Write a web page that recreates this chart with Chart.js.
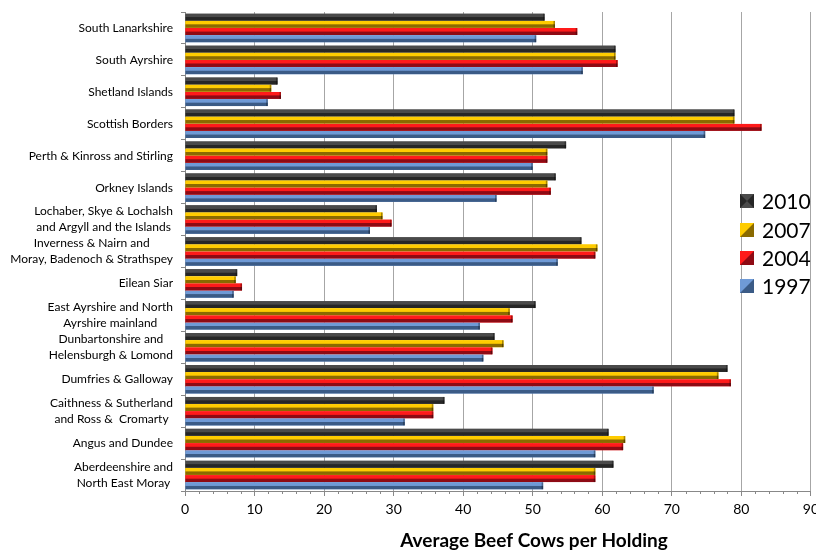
<!DOCTYPE html>
<html>
<head>
<meta charset="utf-8">
<script src="https://cdn.jsdelivr.net/npm/chart.js@4.4.1/dist/chart.umd.min.js"></script>
<style>
  body { margin: 0; background: #fff; }
  #frame { width: 816px; height: 551px; overflow: hidden; }
  #wrap { width: 824px; height: 551px; position: relative; }
</style>
</head>
<body>
<div id="frame"><div id="wrap"><canvas id="beefChart"></canvas></div></div>
<script>
const regions = [
    ['South Lanarkshire'],
    ['South Ayrshire'],
    ['Shetland Islands'],
    ['Scottish Borders'],
    ['Perth & Kinross and Stirling'],
    ['Orkney Islands'],
    ['Lochaber, Skye & Lochalsh', 'and Argyll and the Islands'],
    ['Inverness & Nairn and', 'Moray, Badenoch & Strathspey'],
    ['Eilean Siar'],
    ['East Ayrshire and North', 'Ayrshire mainland'],
    ['Dunbartonshire and', 'Helensburgh & Lomond'],
    ['Dumfries & Galloway'],
    ['Caithness & Sutherland', 'and Ross &  Cromarty'],
    ['Angus and Dundee'],
    ['Aberdeenshire and', 'North East Moray']
];

const years = ['2010', '2007', '2004', '1997'];

const cows2010 = [51.7, 61.9, 13.3, 79.0, 54.8, 53.3, 27.6, 57.0, 7.5, 50.4, 44.5, 78.0, 37.3, 60.9, 61.6];
const cows2007 = [53.2, 61.9, 12.4, 79.0, 52.1, 52.1, 28.4, 59.3, 7.3, 46.7, 45.8, 76.7, 35.7, 63.3, 59.0];
const cows2004 = [56.4, 62.2, 13.8, 82.9, 52.1, 52.6, 29.7, 59.0, 8.2, 47.1, 44.2, 78.5, 35.7, 63.0, 59.0];
const cows1997 = [50.5, 57.2, 11.9, 74.8, 50.0, 44.8, 26.6, 53.6, 7.0, 42.4, 42.9, 67.4, 31.6, 59.0, 51.5];

const xTicks = [0, 10, 20, 30, 40, 50, 60, 70, 80, 90];
const axisTitle = 'Average Beef Cows per Holding';

// light / dark shade per series, for the bevelled bar look
const shades = [
    ['#4a4a4a', '#262626'],
    ['#ffcc00', '#8a6a00'],
    ['#ff1a1a', '#8e0a14'],
    ['#6f9ad6', '#3b5b86']
];

const FONT = 'Lato, "Noto Sans", sans-serif';

// redraw each bar with a top-light / bottom-dark gradient
const bevelBars = {
    id: 'bevelBars',
    afterDatasetsDraw(chart) {
        const ctx = chart.ctx;
        ctx.save();
        chart.data.datasets.forEach((ds, di) => {
            const meta = chart.getDatasetMeta(di);
            meta.data.forEach(bar => {
                const p = bar.getProps(['x', 'y', 'base', 'height'], true);
                const top = p.y - p.height / 2;
                const g = ctx.createLinearGradient(0, top, 0, top + p.height);
                g.addColorStop(0, shades[di][0]);
                g.addColorStop(0.45, shades[di][0]);
                g.addColorStop(0.55, shades[di][1]);
                g.addColorStop(1, shades[di][1]);
                ctx.fillStyle = g;
                ctx.fillRect(p.base, top, p.x - p.base, p.height);
                ctx.fillStyle = 'rgba(0,0,0,0.35)';
                ctx.fillRect(p.x - 1.5, top, 1.5, p.height);
            });
        });
        ctx.restore();
    }
};

// category labels: block right-aligned to the axis, lines centred
const regionLabels = {
    id: 'regionLabels',
    afterDraw(chart) {
        const ctx = chart.ctx;
        const yScale = chart.scales.y;
        const rightEdge = yScale.right - 12;
        ctx.save();
        ctx.font = '12px ' + FONT;
        ctx.fillStyle = '#000';
        ctx.textAlign = 'center';
        ctx.textBaseline = 'middle';
        regions.forEach((lines, i) => {
            const y = yScale.getPixelForTick(i);
            const widest = Math.max(...lines.map(l => ctx.measureText(l).width));
            const cx = rightEdge - widest / 2;
            lines.forEach((line, j) => {
                ctx.fillText(line, cx, y + (j - (lines.length - 1) / 2) * 16);
            });
        });
        ctx.restore();
    }
};

// minor ticks on the value axis, axis title and legend
const extras = {
    id: 'extras',
    afterDraw(chart) {
        const ctx = chart.ctx;
        const xScale = chart.scales.x;
        const area = chart.chartArea;
        ctx.save();
        ctx.strokeStyle = '#888';
        ctx.lineWidth = 1;
        for (let v = 2; v < 90; v += 2) {
            if (v % 10 === 0) continue;
            const px = Math.round(xScale.getPixelForValue(v)) + 0.5;
            ctx.beginPath();
            ctx.moveTo(px, area.bottom);
            ctx.lineTo(px, area.bottom + 3);
            ctx.stroke();
        }

        ctx.font = 'bold 19px ' + FONT;
        ctx.fillStyle = '#000';
        ctx.textAlign = 'center';
        ctx.textBaseline = 'middle';
        ctx.fillText(axisTitle, 534, 541);

        // legend
        ctx.font = '21px ' + FONT;
        ctx.textAlign = 'left';
        const legendTop = [201, 230, 258, 286];
        years.forEach((yr, i) => {
            const x0 = 740, y0 = legendTop[i] - 7, s = 14;
            ctx.fillStyle = shades[i][0];
            ctx.fillRect(x0, y0, s, s);
            ctx.fillStyle = shades[i][1];
            ctx.beginPath();
            if (i === 0) {
                ctx.moveTo(x0, y0); ctx.lineTo(x0 + s / 2, y0 + s / 2); ctx.lineTo(x0, y0 + s);
                ctx.moveTo(x0 + s, y0); ctx.lineTo(x0 + s / 2, y0 + s / 2); ctx.lineTo(x0 + s, y0 + s);
            } else {
                ctx.moveTo(x0 + s, y0); ctx.lineTo(x0 + s, y0 + s); ctx.lineTo(x0, y0 + s);
            }
            ctx.closePath();
            ctx.fill();
            ctx.fillStyle = '#000';
            ctx.fillText(yr, 762, legendTop[i] + 1);
        });
        ctx.restore();
    }
};

const series = [cows2010, cows2007, cows2004, cows1997];

new Chart(document.getElementById('beefChart'), {
    type: 'bar',
    data: {
        labels: regions,
        datasets: years.map((yr, i) => ({
            label: yr,
            data: series[i],
            backgroundColor: shades[i][0],
            borderWidth: 0,
            categoryPercentage: 0.9,
            barPercentage: 0.96
        }))
    },
    options: {
        indexAxis: 'y',
        responsive: true,
        maintainAspectRatio: false,
        animation: false,
        layout: { padding: { top: 12, right: 0, left: 0, bottom: 0 } },
        plugins: {
            legend: { display: false },
            tooltip: { enabled: false }
        },
        scales: {
            x: {
                min: 0,
                max: 90,
                afterBuildTicks: scale => { scale.ticks = xTicks.map(v => ({ value: v })); },
                afterFit: scale => { scale.height = 60; },
                grid: { color: '#a6a6a6', tickLength: 5, tickColor: '#888' },
                border: { color: '#888' },
                ticks: {
                    color: '#000',
                    padding: 5,
                    font: { family: FONT, size: 14 }
                }
            },
            y: {
                afterFit: scale => { scale.width = 185; },
                grid: { drawOnChartArea: false, offset: true, tickLength: 4, color: '#888' },
                border: { color: '#888' },
                ticks: { display: false }
            }
        }
    },
    plugins: [bevelBars, regionLabels, extras]
});
</script>
</body>
</html>
